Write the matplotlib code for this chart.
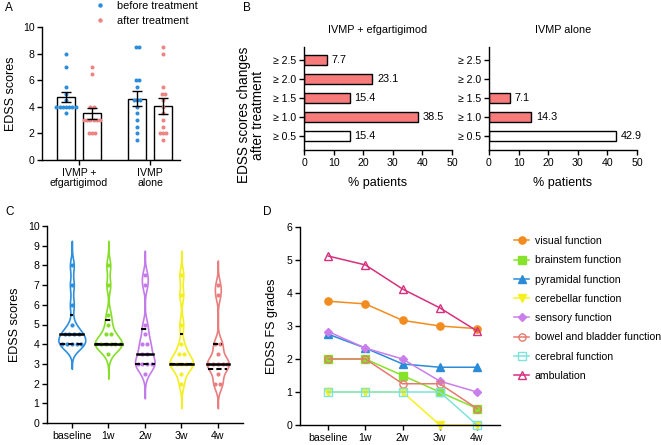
import numpy as np
import matplotlib
matplotlib.use("Agg")
import matplotlib.pyplot as plt
from matplotlib.lines import Line2D

plt.rcParams['font.family'] = ['Liberation Sans', 'DejaVu Sans']
plt.rcParams['axes.linewidth'] = 1.0
plt.rcParams['xtick.major.width'] = 1.0
plt.rcParams['ytick.major.width'] = 1.0
plt.rcParams['xtick.major.size'] = 3.5
plt.rcParams['ytick.major.size'] = 3.5
plt.rcParams['xtick.labelsize'] = 7.6
plt.rcParams['ytick.labelsize'] = 7.6

# ---------------- data ----------------
# Panel A
groups_A = ["IVMP +\nefgartigimod", "IVMP\nalone"]
efg_before = [8, 7, 5.5, 5, 4.5, 4, 4, 4, 4, 4, 4, 4, 3.5]
efg_after = [7, 6.5, 4, 4, 3, 3, 3, 3, 3, 3, 2, 2, 2]
alone_before = [8.5, 8.5, 6, 6, 5.5, 4.5, 4.5, 4.5, 4, 3.5, 3, 2.5, 2, 1.5]
alone_after = [8.5, 8, 5.5, 5, 5, 4.5, 4, 3.5, 3, 2.5, 2, 2, 2, 1.5]

# Panel B
change_cats = ["≥ 0.5", "≥ 1.0", "≥ 1.5", "≥ 2.0", "≥ 2.5"]
pct_efg = [15.4, 38.5, 15.4, 23.1, 7.7]
pct_alone = [42.9, 14.3, 7.1, 0, 0]

# Panel C
timepoints = ["baseline", "1w", "2w", "3w", "4w"]
edss_baseline = [8, 7, 6, 5, 4.5, 4.5, 4.5, 4.5, 4, 4, 4, 4, 4]
edss_1w = [8, 7, 5.5, 5, 4.5, 4.5, 4, 4, 4, 4, 4, 4, 3.5]
edss_2w = [7.5, 7, 5, 4.5, 4, 4, 3.5, 3.5, 3, 3, 3, 3, 2.5]
edss_3w = [7.5, 6.5, 5, 4, 3.5, 3.5, 3, 3, 3, 3, 3, 2.5, 2]
edss_4w = [7, 6.5, 4, 4, 3.5, 3, 3, 3, 3, 3, 2.5, 2, 2]

# Panel D
fs_names = ["visual function", "brainstem function", "pyramidal function",
            "cerebellar function", "sensory function", "bowel and bladder function",
            "cerebral function", "ambulation"]
fs_visual = [3.75, 3.67, 3.17, 3.0, 2.92]
fs_brainstem = [2.0, 2.0, 1.5, 1.0, 0.5]
fs_pyramidal = [2.75, 2.33, 1.85, 1.75, 1.75]
fs_cerebellar = [1, 1, 1, 0, 0]
fs_sensory = [2.83, 2.33, 2.0, 1.33, 1.0]
fs_bowel = [2.0, 2.0, 1.25, 1.25, 0.5]
fs_cerebral = [1, 1, 1, 1, 0]
fs_ambulation = [5.12, 4.85, 4.12, 3.55, 2.85]

# ---------------- figure ----------------
W, H = 661, 445
fig = plt.figure(figsize=(W / 100, H / 100), dpi=100)


def ax_px(l, t, r, b):
    return fig.add_axes([l / W, (H - b) / H, (r - l) / W, (b - t) / H])


def style(ax):
    ax.spines['top'].set_visible(False)
    ax.spines['right'].set_visible(False)
    ax.tick_params(direction='out', pad=2)


BLUE = '#2C8EDB'
PINK = '#EC8583'


def swarm_offsets(vals, spacing):
    vals = np.asarray(vals, float)
    offs = np.zeros(len(vals))
    for v in np.unique(vals):
        idx = np.where(vals == v)[0]
        n = len(idx)
        offs[idx] = (np.arange(n) - (n - 1) / 2) * spacing
    return offs


# ---- Panel A ----
axA = ax_px(42, 27, 180, 160)
style(axA)
sets = [(0, -0.183, efg_before, BLUE), (0, 0.183, efg_after, PINK),
        (1, -0.183, alone_before, BLUE), (1, 0.183, alone_after, PINK)]
for g, off, vals, col in sets:
    x = g + off
    v = np.asarray(vals, float)
    m = v.mean()
    sem = v.std(ddof=1) / np.sqrt(len(v))
    axA.bar(x, m, width=0.25, facecolor='white', edgecolor='black', lw=1.0, zorder=1)
    axA.plot(x + swarm_offsets(v, 0.045), v, 'o', color=col, ms=2.9, mew=0, zorder=2)
    axA.errorbar(x, m, yerr=sem, color='black', capsize=3.5, lw=1.0, capthick=1.0, zorder=3)
axA.set_xlim(-0.52, 1.42)
axA.set_ylim(0, 10)
axA.set_yticks([0, 2, 4, 6, 8, 10])
axA.set_xticks([0, 1])
axA.set_xticklabels(groups_A, fontsize=7.6, linespacing=1.05)
axA.set_ylabel("EDSS scores", fontsize=9, labelpad=4)
hA = [Line2D([], [], ls='none', marker='o', color=BLUE, ms=3.2, mew=0),
      Line2D([], [], ls='none', marker='o', color=PINK, ms=3.2, mew=0)]
fig.legend(hA, ["before treatment", "after treatment"], loc='upper left',
           bbox_to_anchor=(95 / W, 1 - 1.0 / H), frameon=False, fontsize=7.8,
           handlelength=1.0, handletextpad=1.0, labelspacing=0.45,
           borderpad=0, borderaxespad=0)

# ---- Panel B ----
BAR_RED = '#F77B7B'
bar_cols = ['white', BAR_RED, BAR_RED, BAR_RED, BAR_RED]
for (l, r), vals, title in [((304, 452), pct_efg, "IVMP + efgartigimod"),
                            ((489, 637), pct_alone, "IVMP alone")]:
    ax = ax_px(l, 47, r, 150)
    style(ax)
    y = np.arange(len(change_cats))
    for yi, v, c in zip(y, vals, bar_cols):
        if v > 0:
            ax.barh(yi, v, height=0.53, facecolor=c, edgecolor='black', lw=1.0)
            ax.text(v + 1.6, yi, f"{v:.1f}", va='center', ha='left', fontsize=7.8)
    ax.set_yticks(y)
    ax.set_yticklabels(change_cats)
    ax.set_ylim(-0.74, 4.7)
    ax.set_xlim(0, 50)
    ax.set_xticks([0, 10, 20, 30, 40, 50])
    ax.set_xlabel("% patients", fontsize=9, labelpad=7)
    ax.set_title(title, fontsize=7.8, pad=10)
fig.text(251 / W, 1 - 115 / H, "EDSS scores changes\nafter treatment", rotation=90,
         ha='center', va='center', fontsize=9.8, multialignment='center', linespacing=0.95)

# ---- Panel C ----
axC = ax_px(47, 226, 243, 423)
style(axC)
vcolors = ['#2E8FDC', '#86DE2A', '#C47BEA', '#F4EF1E', '#E87F7E']
cdata = [edss_baseline, edss_1w, edss_2w, edss_3w, edss_4w]
h = 0.35
cut = 1.25


def kde(vals, grid):
    vals = np.asarray(vals, float)
    z = (grid[:, None] - vals[None, :]) / h
    return np.exp(-0.5 * z ** 2).sum(axis=1) / (len(vals) * h * np.sqrt(2 * np.pi))


dens_max = max(kde(d, np.linspace(min(d) - cut, max(d) + cut, 400)).max() for d in cdata)
k = 0.37 / dens_max
for i, (d, col) in enumerate(zip(cdata, vcolors)):
    d = np.asarray(d, float)
    grid = np.linspace(d.min() - cut, d.max() + cut, 400)
    w = kde(d, grid) * k
    axC.fill_betweenx(grid, i - w, i + w, facecolor='white', edgecolor=col, lw=1.2, zorder=1)
    axC.plot(i + swarm_offsets(d, 0.13), d, 'o', color=col, ms=3.0, mew=0, zorder=2)
    q1, med, q3 = np.percentile(d, [25, 50, 75], method='weibull')
    for q, ls, lw in [(q1, (0, (2.5, 1.5)), 1.5), (q3, (0, (2.5, 1.5)), 1.5), (med, '-', 1.8)]:
        wq = kde(d, np.array([q]))[0] * k
        axC.plot([i - wq, i + wq], [q, q], color='black', ls=ls, lw=lw, zorder=3)
axC.set_xlim(-0.68, 4.69)
axC.set_ylim(0, 10)
axC.set_yticks(range(0, 11))
axC.set_xticks(range(5))
axC.set_xticklabels(timepoints)
axC.set_ylabel("EDSS scores", fontsize=9, labelpad=5)

# ---- Panel D ----
axD = ax_px(300, 227, 500, 425)
style(axD)
dseries = [fs_visual, fs_brainstem, fs_pyramidal, fs_cerebellar, fs_sensory,
           fs_bowel, fs_cerebral, fs_ambulation]
dstyles = [('#F28C1E', 'o', True), ('#86E22A', 's', True), ('#2A8BD8', '^', True),
           ('#F6F11C', 'v', True), ('#C97EEC', 'D', True), ('#E57A6E', 'o', False),
           ('#7FE3DC', 's', False), ('#D6307E', '^', False)]
xs = np.arange(5)
handles = []
for vals, (col, mk, filled) in zip(dseries, dstyles):
    ms = 4.2 if mk == 'D' else 5.2
    ln, = axD.plot(xs, vals, color=col, lw=1.1, marker=mk, ms=ms,
                   mfc=col if filled else 'none', mec=col, mew=1.0, clip_on=False)
    handles.append(ln)
axD.set_xlim(-0.76, 4.62)
axD.set_ylim(0, 6)
axD.set_yticks(range(0, 7))
axD.set_xticks(xs)
axD.set_xticklabels(timepoints)
axD.set_ylabel("EDSS FS grades", fontsize=9, labelpad=6)
fig.legend(handles, fs_names, loc='upper left', bbox_to_anchor=(514 / W, 1 - 236 / H),
           frameon=False, fontsize=7.6, handlelength=1.45, handletextpad=0.5,
           labelspacing=0.88, borderpad=0, borderaxespad=0)

# panel letters
for txt, x, y in [("A", 5, 8), ("B", 243, 8), ("C", 5, 212), ("D", 263, 212)]:
    fig.text(x / W, 1 - y / H, txt, fontsize=8.5, ha='left', va='center')

fig.savefig("out.png", dpi=100)
